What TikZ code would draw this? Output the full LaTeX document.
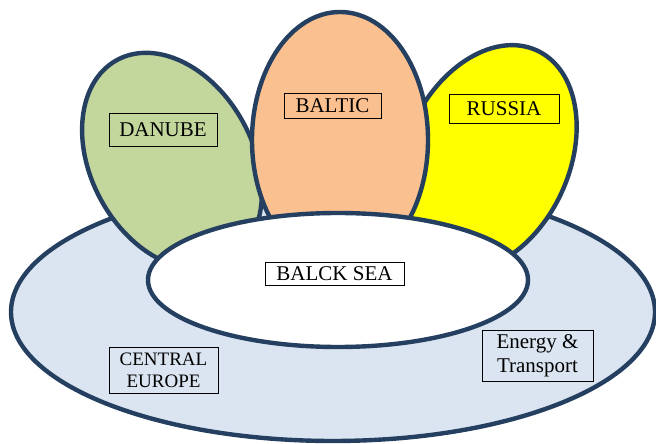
\documentclass[tikz,border=0pt]{standalone}
\usepackage{fontspec}
\setmainfont{Liberation Serif}
\definecolor{edge}{HTML}{243F60}
\definecolor{ringfill}{HTML}{DBE5F1}
\definecolor{greenfill}{HTML}{C3D69B}
\definecolor{orangefill}{HTML}{FAC090}
\definecolor{yellowfill}{HTML}{FFFF00}
\tikzset{
  region/.style={draw=edge, line width=4.4pt},
  labelbox/.style={draw=black, line width=0.8pt, inner sep=0pt, align=center,
    font=\fontsize{21}{24}\selectfont},
}
\begin{document}
\begin{tikzpicture}[x=1pt,y=1pt]
\useasboundingbox (0,0) rectangle (656,444);
% outer ring
\path[region, fill=ringfill] (333,132) ellipse [x radius=322, y radius=129];
% petals
\path[region, fill=greenfill, rotate around={28.6:(172,283)}] (172,283) ellipse [x radius=81, y radius=115];
\path[region, fill=yellowfill, rotate around={-24.9:(487,285.5)}] (487,285.5) ellipse [x radius=82, y radius=119];
\path[region, fill=orangefill] (340,304) ellipse [x radius=88, y radius=128];
% inner sea
\path[region, fill=white] (338,164) ellipse [x radius=190, y radius=67];
% labels
\node[labelbox, minimum width=108, minimum height=33] (danube) at (163,314.5) {DANUBE};
\node[labelbox, minimum width=97, minimum height=25] (baltic) at (332.5,338) {BALTIC};
\node[labelbox, minimum width=110, minimum height=29] (russia) at (504,335.5) {RUSSIA};
\node[labelbox, minimum width=139, minimum height=23] (sea) at (334.5,170.5) {BALCK SEA};
\node[labelbox, minimum width=109, minimum height=46, font=\fontsize{19}{22}\selectfont] (central) at (163.5,74) {CENTRAL\\EUROPE};
\node[labelbox, minimum width=111, minimum height=51] (energy) at (537.5,88.5) {Energy \&\\Transport};
\end{tikzpicture}
\end{document}
